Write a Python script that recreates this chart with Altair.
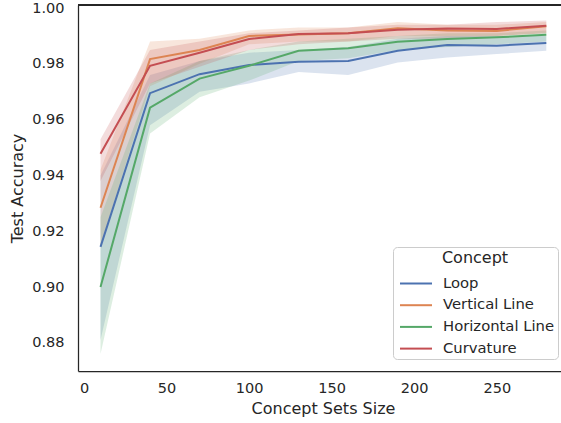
import altair as alt
import pandas as pd

sizes = [10, 40, 70, 100, 130, 160, 190, 220, 250, 280]
concepts = ["Loop", "Vertical Line", "Horizontal Line", "Curvature"]
colors = ["#4c72b0", "#dd8452", "#55a868", "#c44e52"]

loop_mean = [0.9144, 0.9695, 0.9763, 0.9796, 0.9808, 0.9810, 0.9847, 0.9868, 0.9865, 0.9875]
loop_lo = [0.881, 0.958, 0.970, 0.973, 0.9771, 0.976, 0.9805, 0.9823, 0.9835, 0.9847]
loop_hi = [0.940, 0.976, 0.981, 0.984, 0.985, 0.986, 0.989, 0.990, 0.990, 0.990]

vert_mean = [0.9284, 0.9817, 0.9850, 0.9900, 0.9905, 0.9910, 0.9928, 0.9920, 0.9918, 0.9935]
vert_lo = [0.915, 0.972, 0.980, 0.987, 0.988, 0.988, 0.990, 0.990, 0.990, 0.991]
vert_hi = [0.942, 0.988, 0.989, 0.992, 0.993, 0.993, 0.995, 0.994, 0.994, 0.995]

horiz_mean = [0.9000, 0.9643, 0.9747, 0.9793, 0.9847, 0.9856, 0.9879, 0.9889, 0.9895, 0.9904]
horiz_lo = [0.876, 0.955, 0.968, 0.974, 0.981, 0.982, 0.985, 0.986, 0.987, 0.988]
horiz_hi = [0.925, 0.973, 0.981, 0.985, 0.988, 0.989, 0.990, 0.991, 0.991, 0.992]

curv_mean = [0.9478, 0.9793, 0.9840, 0.9889, 0.9907, 0.9910, 0.9922, 0.9927, 0.9925, 0.9937]
curv_lo = [0.938, 0.973, 0.979, 0.985, 0.987, 0.988, 0.989, 0.989, 0.990, 0.991]
curv_hi = [0.953, 0.985, 0.988, 0.991, 0.992, 0.993, 0.994, 0.994, 0.995, 0.9955]

series = {
    "Loop": (loop_mean, loop_lo, loop_hi),
    "Vertical Line": (vert_mean, vert_lo, vert_hi),
    "Horizontal Line": (horiz_mean, horiz_lo, horiz_hi),
    "Curvature": (curv_mean, curv_lo, curv_hi),
}

rows = []
for ci, c in enumerate(concepts):
    m, lo, hi = series[c]
    for i, s in enumerate(sizes):
        rows.append({"size": s, "Concept": c, "acc": m[i], "lo": lo[i], "hi": hi[i], "order": ci})
df = pd.DataFrame(rows)

W, H = 483, 366
FONT = "DejaVu Sans"
TXT = "#262626"

xscale = alt.Scale(domain=[-3.63, 288.9], nice=False, zero=False)
yscale = alt.Scale(domain=[0.8699, 1.0011], nice=False, zero=False)
cscale = alt.Scale(domain=concepts, range=colors)

legend = alt.Legend(title="Concept", orient="none", legendX=315, legendY=242,
                    symbolType="M-2,0H2", symbolSize=256, symbolStrokeWidth=2,
                    symbolOpacity=1, symbolOffset=11,
                    rowPadding=5.7, labelOffset=18,
                    padding=3, titlePadding=8.5,
                    titleAnchor="middle", titleAlign="center")
color = alt.Color("Concept:N", scale=cscale, sort=concepts, legend=legend)

base = alt.Chart(df)

bands = base.mark_area(opacity=0.2).encode(
    x=alt.X("size:Q", scale=xscale),
    y=alt.Y("lo:Q", scale=yscale),
    y2="hi:Q",
    color=color,
    detail="Concept:N",
)

lines = base.mark_line(strokeWidth=2).encode(
    x=alt.X("size:Q", scale=xscale,
            axis=alt.Axis(title="Concept Sets Size", values=[0, 50, 100, 150, 200, 250],
                          grid=False, ticks=False, labelPadding=10,
                          titleX=245, titleY=37, titleBaseline="middle")),
    y=alt.Y("acc:Q", scale=yscale,
            axis=alt.Axis(title="Test Accuracy", values=[0.88, 0.90, 0.92, 0.94, 0.96, 0.98, 1.00],
                          format=".2f", grid=False, ticks=False, labelPadding=14,
                          titleX=-61, titleY=183, titleBaseline="middle", titleAlign="center")),
    color=color,
    detail="Concept:N",
)

top = alt.Chart(df).mark_rule(color=TXT, strokeWidth=1.25).encode(
    x=alt.value(0), x2=alt.value(W), y=alt.value(0)
)

chart = alt.layer(bands, lines, top).properties(
    width=W, height=H,
    autosize=alt.AutoSizeParams(type="none"),
    padding={"left": 78, "top": 5, "right": 0, "bottom": 52},
).configure_view(stroke=None).configure_axis(
    labelFont=FONT, titleFont=FONT, labelFontSize=14.5, titleFontSize=16,
    labelColor=TXT, titleColor=TXT, titleFontWeight="normal",
    domainColor=TXT, domainWidth=1.25,
).configure_legend(
    labelFont=FONT, titleFont=FONT, labelFontSize=14.8, titleFontSize=16,
    labelColor=TXT, titleColor=TXT, titleFontWeight="normal",
    strokeColor="#cccccc", fillColor="white", cornerRadius=4,
)

chart.save("out.html", embed_options={"renderer": "svg", "actions": False})
